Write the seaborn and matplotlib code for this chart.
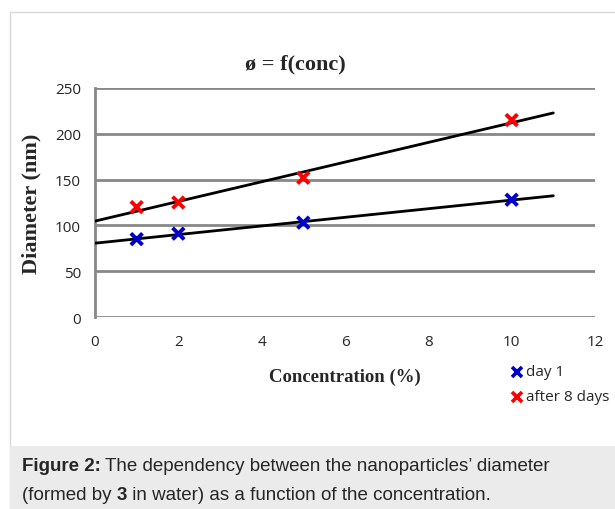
import numpy as np
import pandas as pd
import matplotlib
matplotlib.use("Agg")
import matplotlib.pyplot as plt
from matplotlib.lines import Line2D
import seaborn as sns

# -------- Data --------
conc = [1, 2, 5, 10]
day1 = [85, 91, 103, 128]
after8 = [120, 125, 152, 215]
series_names = ["day 1", "after 8 days"]
series_colors = ["#0000cc", "#ff0000"]
x_ticks = [0, 2, 4, 6, 8, 10, 12]
y_ticks = [0, 50, 100, 150, 200, 250]

df = pd.DataFrame({
    "conc": conc * 2,
    "diam": day1 + after8,
    "series": [series_names[0]] * len(conc) + [series_names[1]] * len(conc),
})

# -------- Plot setup --------
sns.set_style("white")
plt.rcParams["font.family"] = ["Open Sans", "DejaVu Sans"]

fig = plt.figure(figsize=(6.15, 5.1), dpi=100)
ax = fig.add_axes([95 / 615, 1 - 318 / 510, 500 / 615, 229 / 510])

# trend lines (linear fit, drawn from 0 to 11)
xfit = np.linspace(0, 11, 50)
for vals in (day1, after8):
    k, b = np.polyfit(conc, vals, 1)
    sns.lineplot(x=xfit, y=k * xfit + b, color="black", linewidth=2, ax=ax, zorder=3)

sns.scatterplot(data=df, x="conc", y="diam", hue="series", palette=series_colors,
                marker="x", s=70, linewidth=2.8, ax=ax, zorder=4, legend=False)

ax.set_xlim(0, 12)
ax.set_ylim(0, 250)
ax.set_xticks(x_ticks)
ax.set_yticks(y_ticks)
ax.tick_params(length=0, labelsize=11)
ax.tick_params(axis="x", pad=12)
ax.tick_params(axis="y", pad=10)
ax.grid(axis="y", color="#888888", linewidth=2)
ax.set_axisbelow(True)
for s in ["top", "right", "bottom"]:
    ax.spines[s].set_visible(False)
ax.spines["left"].set_color("#888888")
ax.spines["left"].set_linewidth(2)

ax.set_xlabel("Concentration (%)", family="Liberation Serif", fontweight="bold",
              fontsize=13.5, labelpad=14)
ax.set_ylabel("Diameter (nm)", family="Liberation Serif", fontweight="bold",
              fontsize=16, labelpad=10)

# chart title, centred over the chart area
fig.text(295 / 615, 1 - 64 / 510, "ø = f(conc)", family="Liberation Serif",
         fontweight="bold", fontsize=16, ha="center", va="center")

# legend on the right below the axis
for i, (name, col) in enumerate(zip(series_names, series_colors)):
    y = 1 - (373 + 25 * i) / 510
    fig.add_artist(Line2D([517 / 615], [y], transform=fig.transFigure, marker="x",
                          markersize=7, markeredgewidth=2.6, color=col, linestyle="none"))
    fig.text(526 / 615, y, name, fontsize=11, va="center")

# outer frame
frame = plt.Rectangle((10 / 615, 0), 1, 1 - 13 / 510, transform=fig.transFigure,
                      fill=False, edgecolor="#d8d8d8", linewidth=1)
fig.add_artist(frame)

# caption box
cap = plt.Rectangle((10 / 615, 0), 1, 63 / 510, transform=fig.transFigure,
                    facecolor="#ebebeb", edgecolor="none")
fig.add_artist(cap)

cap_font = "Liberation Sans"
cap_size = 13.5
t1 = fig.text(22 / 615, 1 - 467 / 510, "Figure 2:", family=cap_font,
              fontweight="bold", fontsize=cap_size, va="center")
fig.canvas.draw()
bb = t1.get_window_extent()
fig.text(bb.x1 / fig.bbox.width + 4 / 615, 1 - 467 / 510,
         "The dependency between the nanoparticles\u2019 diameter",
         family=cap_font, fontsize=cap_size, va="center")
t3 = fig.text(22 / 615, 1 - 496 / 510, "(formed by ", family=cap_font,
              fontsize=cap_size, va="center")
fig.canvas.draw()
bb = t3.get_window_extent()
t4 = fig.text(bb.x1 / fig.bbox.width, 1 - 496 / 510, "3", family=cap_font,
              fontweight="bold", fontsize=cap_size, va="center")
fig.canvas.draw()
bb = t4.get_window_extent()
fig.text(bb.x1 / fig.bbox.width, 1 - 496 / 510,
         " in water) as a function of the concentration.",
         family=cap_font, fontsize=cap_size, va="center")

fig.savefig("out.png", dpi=100)
